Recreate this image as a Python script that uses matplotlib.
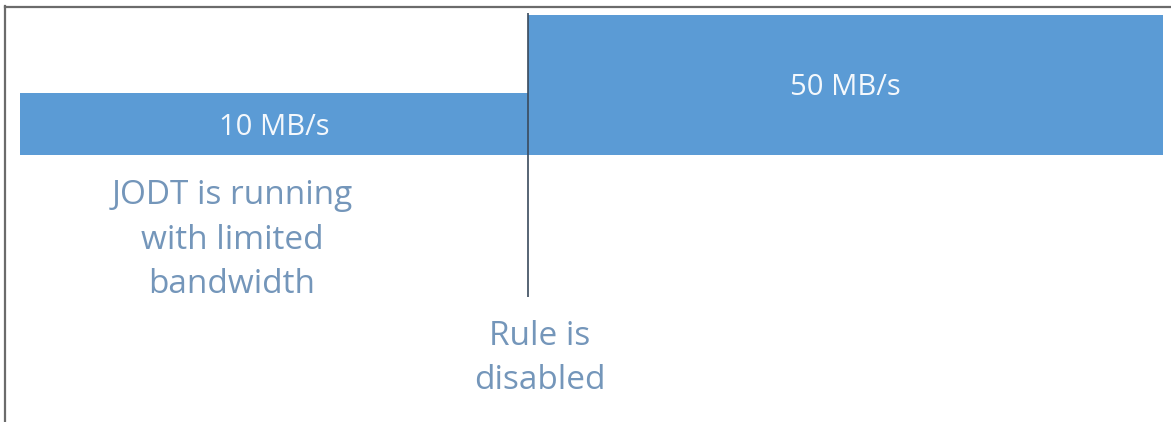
import matplotlib.pyplot as plt
from matplotlib.lines import Line2D

# Data: bandwidth phases over time (arbitrary time units)
phase_start = [0, 4]
phase_end = [4, 9]
bar_level = [2.2, 5.0]          # drawn height of each phase bar
bar_labels = ['10 MB/s', '50 MB/s']
switch_time = 4

bar_color = '#5b9bd5'
note_color = '#7496ba'

fig = plt.figure(figsize=(11.71, 4.22), dpi=100)
ax = fig.add_axes([0, 0, 1, 1])
ax.set_xlim(-0.157, 9.063)
ax.set_ylim(-9.536, 5.536)
ax.axis('off')

# Phase bars
for s, e, h, lab in zip(phase_start, phase_end, bar_level, bar_labels):
    ax.bar(s, h, width=e - s, align='edge', bottom=0, color=bar_color,
           edgecolor='none')
    ax.text((s + e) / 2, h / 2 - 0.1, lab, ha='center', va='center',
            color='#f4f8fc', fontsize=21, family='Open Sans')

# Switch marker line
ax.plot([switch_time, switch_time], [5.07, -5.07], color='#3a4a5c', lw=1.2,
        solid_capstyle='butt')

# Annotations
ax.text(1.67, -3.04, 'JODT is running\nwith limited\nbandwidth', ha='center',
        va='center', color=note_color, fontsize=24, family='Open Sans',
        linespacing=1.45)
ax.text(4.09, -7.28, 'Rule is\ndisabled', ha='center', va='center',
        color=note_color, fontsize=24, family='Open Sans', linespacing=1.45)

# Frame lines on top and left
fig.add_artist(Line2D([5 / 1171, 1], [1 - 6.5 / 422, 1 - 6.5 / 422],
                      transform=fig.transFigure, color='#6b6b6b', lw=1.6))
fig.add_artist(Line2D([5.5 / 1171, 5.5 / 1171], [0, 1 - 6 / 422],
                      transform=fig.transFigure, color='#6b6b6b', lw=1.6))

plt.savefig('out.png', dpi=100)
